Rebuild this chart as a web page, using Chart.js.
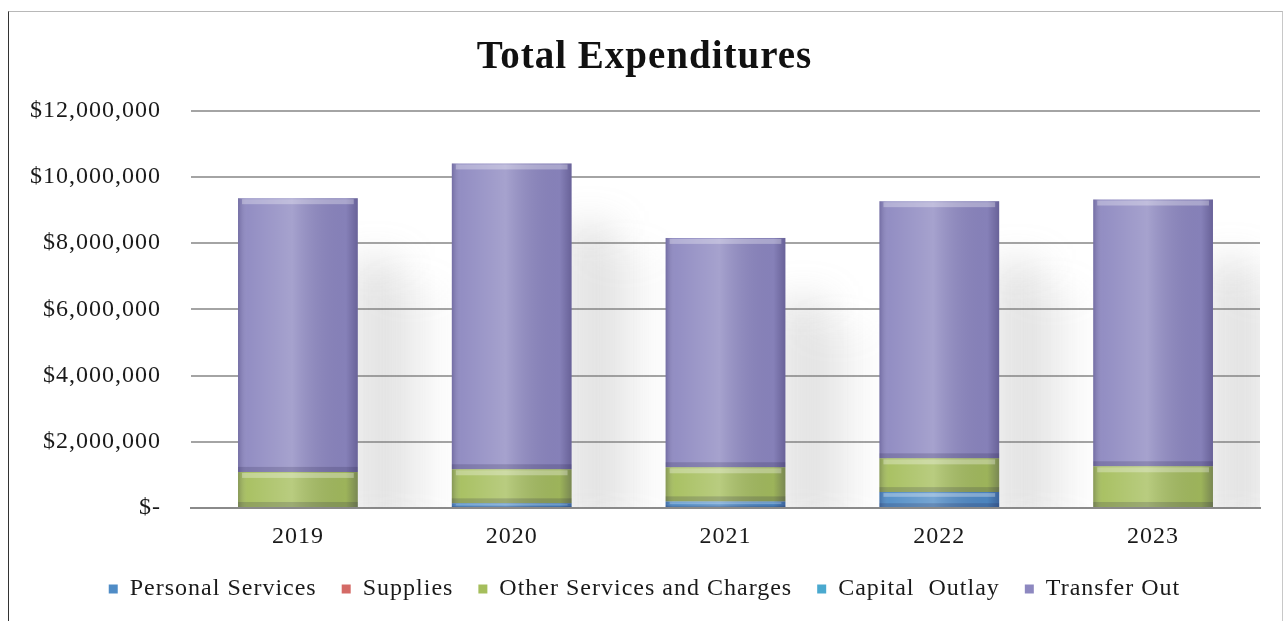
<!DOCTYPE html>
<html>
<head>
<meta charset="utf-8">
<title>Total Expenditures</title>
<script src="https://cdn.jsdelivr.net/npm/chart.js@4.4.1/dist/chart.umd.min.js"></script>
<style>
  html, body { margin: 0; padding: 0; background: #fff; overflow: hidden; }
  #frame {
    position: absolute;
    left: 8px; top: 11px;
    width: 1273px; height: 640px;
    border-left: 1px solid #333;
    border-top: 1px solid #b8b8b8;
    border-right: 1px solid #c8c8c8;
  }
  #wrap { position: relative; width: 1273px; height: 628px; }
</style>
</head>
<body>
<div id="frame">
  <div id="wrap"><canvas id="expenditures-chart"></canvas></div>
</div>
<script>
// ── DATA ──────────────────────────────────
const years = ['2019', '2020', '2021', '2022', '2023'];
const personalServices = [0, 140000, 200000, 480000, 0];
const supplies = [0, 0, 0, 0, 0];
const otherServices = [1090000, 1030000, 1030000, 1020000, 1260000];
const capitalOutlay = [0, 0, 0, 0, 0];
const transferOut = [8270000, 9240000, 6930000, 7770000, 8060000];

const yTicks = [0, 2000000, 4000000, 6000000, 8000000, 10000000, 12000000];

const seriesNames = [
  'Personal Services',
  'Supplies',
  'Other Services and Charges',
  'Capital  Outlay',
  'Transfer Out'
];
const seriesColours = ['#4f8cc6', '#d46a66', '#a5be5c', '#4aa9cf', '#8d88c0'];

const serif = "'Liberation Serif', 'Times New Roman', serif";

// Slightly spaced glyphs, like the old office print
const spacing = {
  id: 'spacing',
  beforeUpdate(chart) { chart.ctx.letterSpacing = '1px'; },
  beforeDraw(chart) { chart.ctx.letterSpacing = '1px'; }
};

// Soft grey shadow falling to the right of every column
const columnShadow = {
  id: 'columnShadow',
  beforeDatasetsDraw(chart) {
    const { ctx, chartArea } = chart;
    const metas = chart.getSortedVisibleDatasetMetas();
    ctx.save();
    ctx.beginPath();
    ctx.rect(chartArea.left, chartArea.top, chartArea.width, chartArea.height);
    ctx.clip();
    ctx.filter = 'blur(18px)';
    years.forEach((y, i) => {
      let top = Infinity, base = -Infinity, x = 0, w = 0;
      metas.forEach(meta => {
        const el = meta.data[i];
        if (!el) return;
        top = Math.min(top, el.y, el.base);
        base = Math.max(base, el.base, el.y);
        x = el.x; w = el.width;
      });
      const right = x + w / 2;
      ctx.fillStyle = 'rgba(130,130,130,0.20)';
      ctx.fillRect(right - 10, top + 60, 55, base - top - 40);
      ctx.fillStyle = 'rgba(150,150,150,0.10)';
      ctx.fillRect(right + 25, top + 90, 55, base - top - 70);
    });
    ctx.restore();
  }
};

// Bevelled, glossy look on each bar segment
const bevel = {
  id: 'bevel',
  afterDatasetsDraw(chart) {
    const { ctx } = chart;
    chart.getSortedVisibleDatasetMetas().forEach(meta => {
      meta.data.forEach(el => {
        const top = Math.min(el.y, el.base);
        const h = Math.abs(el.base - el.y);
        if (h < 1) return;
        const left = el.x - el.width / 2;
        const w = el.width;
        ctx.save();
        const g = ctx.createLinearGradient(left, 0, left + w, 0);
        g.addColorStop(0, 'rgba(20,10,60,0.22)');
        g.addColorStop(0.08, 'rgba(255,255,255,0.05)');
        g.addColorStop(0.45, 'rgba(255,255,255,0.22)');
        g.addColorStop(0.9, 'rgba(20,10,60,0.06)');
        g.addColorStop(1, 'rgba(20,10,60,0.30)');
        ctx.fillStyle = g;
        ctx.fillRect(left, top, w, h);
        const edge = Math.min(5, h / 4);
        ctx.fillStyle = 'rgba(255,255,255,0.30)';
        ctx.fillRect(left + 4, top + 1, w - 8, edge);
        ctx.fillStyle = 'rgba(30,20,60,0.18)';
        ctx.fillRect(left, top + h - edge, w, edge);
        ctx.restore();
      });
    });
  }
};

const datasets = [personalServices, supplies, otherServices, capitalOutlay, transferOut]
  .map((values, i) => ({
    label: seriesNames[i],
    data: values,
    backgroundColor: seriesColours[i],
    borderWidth: 0,
    barPercentage: 0.56,
    categoryPercentage: 1
  }));

new Chart(document.getElementById('expenditures-chart'), {
  type: 'bar',
  data: { labels: years, datasets },
  plugins: [spacing, columnShadow, bevel],
  options: {
    responsive: true,
    maintainAspectRatio: false,
    animation: false,
    layout: { padding: { left: 20, right: 22, bottom: 29 } },
    plugins: {
      title: {
        display: true,
        text: 'Total Expenditures',
        color: '#111',
        font: { family: serif, size: 39, weight: 'bold', lineHeight: 1.2 },
        padding: { top: 23, bottom: 29 }
      },
      legend: {
        position: 'bottom',
        labels: {
          color: '#1a1a1a',
          font: { family: serif, size: 24 },
          boxWidth: 9,
          boxHeight: 9,
          padding: 25
        }
      },
      tooltip: { enabled: false }
    },
    scales: {
      x: {
        stacked: true,
        grid: { display: false, drawTicks: false },
        border: { display: true, color: '#8a8a8a', width: 2 },
        ticks: {
          color: '#1a1a1a',
          font: { family: serif, size: 24 },
          padding: 14
        },
        afterFit: (scale) => { scale.height = 44; }
      },
      y: {
        stacked: true,
        min: 0,
        max: 12000000,
        afterBuildTicks: (scale) => {
          scale.ticks = yTicks.map(v => ({ value: v }));
        },
        grid: { color: '#a4a4a4', lineWidth: 2, drawTicks: false },
        border: { display: false },
        ticks: {
          color: '#1a1a1a',
          font: { family: serif, size: 24 },
          padding: 30,
          callback: (val) => val === 0 ? '$-' : '$' + val.toLocaleString('en-US')
        },
        afterFit: (scale) => { scale.width = 162; }
      }
    }
  }
});
</script>
</body>
</html>
